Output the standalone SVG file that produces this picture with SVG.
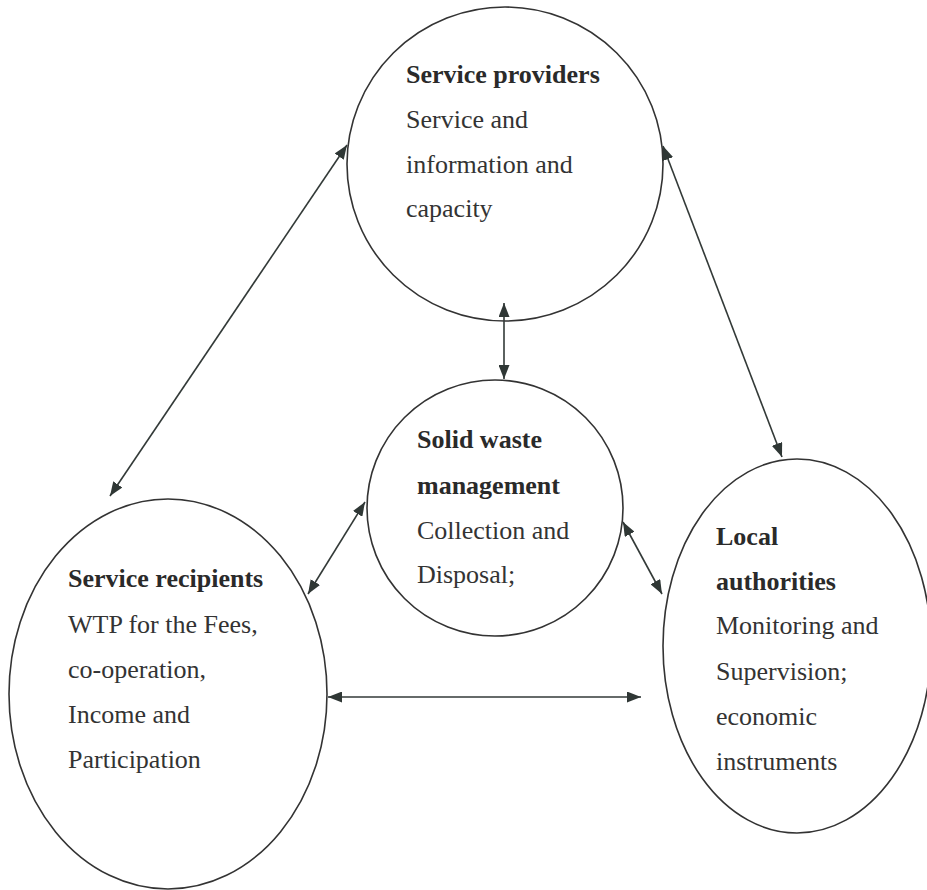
<svg xmlns="http://www.w3.org/2000/svg" width="927" height="890" viewBox="0 0 927 890">
  <style>
    .node { fill: #ffffff; stroke: #333333; stroke-width: 1.6; }
    .link { stroke: #333a38; stroke-width: 1.6; fill: none; marker-start: url(#head); marker-end: url(#head); }
    text { font-family: "Liberation Serif", "Times New Roman", serif; font-size: 26px; fill: #333333; }
    .title { font-weight: bold; fill: #2a2a2a; }
  </style>
  <defs>
    <marker id="head" viewBox="0 0 14 11" refX="14" refY="5.5" markerWidth="14" markerHeight="11" markerUnits="userSpaceOnUse" orient="auto-start-reverse">
      <path d="M0,0 L14,5.5 L0,11 Z" fill="#2f3735"/>
    </marker>
  </defs>

  <rect width="927" height="890" fill="#ffffff"/>

  <!-- Service providers -->
  <g id="service-providers">
    <ellipse class="node" cx="505" cy="164" rx="158" ry="157"/>
    <text x="406" y="83" class="title">Service providers</text>
    <text x="406" y="128">Service and</text>
    <text x="406" y="173">information and</text>
    <text x="406" y="217">capacity</text>
  </g>

  <!-- Solid waste management -->
  <g id="solid-waste-management">
    <circle class="node" cx="495" cy="508" r="128"/>
    <text x="417" y="448" class="title">Solid waste</text>
    <text x="417" y="494" class="title">management</text>
    <text x="417" y="539">Collection and</text>
    <text x="417" y="583">Disposal;</text>
  </g>

  <!-- Service recipients -->
  <g id="service-recipients">
    <ellipse class="node" cx="168" cy="694" rx="159" ry="195"/>
    <text x="68" y="587" class="title">Service recipients</text>
    <text x="68" y="633">WTP for the Fees,</text>
    <text x="68" y="678">co-operation,</text>
    <text x="68" y="723">Income and</text>
    <text x="68" y="768">Participation</text>
  </g>

  <!-- Local authorities -->
  <g id="local-authorities">
    <ellipse class="node" cx="797" cy="646" rx="134" ry="187"/>
    <text x="716" y="545" class="title">Local</text>
    <text x="716" y="590" class="title">authorities</text>
    <text x="716" y="634">Monitoring and</text>
    <text x="716" y="680">Supervision;</text>
    <text x="716" y="725">economic</text>
    <text x="716" y="770">instruments</text>
  </g>

  <!-- two-way connectors -->
  <g id="connectors">
    <line class="link" x1="347" y1="145" x2="110" y2="496"/>
    <line class="link" x1="663" y1="146" x2="782" y2="457"/>
    <line class="link" x1="504" y1="303" x2="504" y2="379"/>
    <line class="link" x1="365" y1="502" x2="308" y2="594"/>
    <line class="link" x1="623" y1="522" x2="662" y2="594"/>
    <line class="link" x1="328" y1="697" x2="641" y2="697"/>
  </g>
</svg>
